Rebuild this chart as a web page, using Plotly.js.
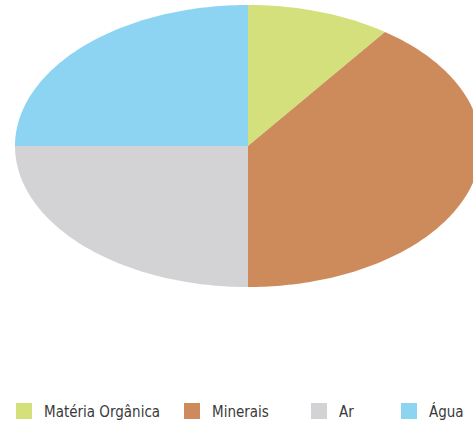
<!DOCTYPE html>
<html>
<head>
<meta charset="utf-8">
<script src="https://cdn.plot.ly/plotly-3.0.1.min.js"></script>
<style>html,body{margin:0;padding:0;background:#fff;}#chart{width:473px;height:433px;}</style>
</head>
<body>
<div id="chart"></div>
<script>
// Data
const categories = ["Matéria Orgânica", "Minerais", "Ar", "Água"];
const values = [10, 40, 25, 25];
const colors = ["#d3e07c", "#cd8a5a", "#d3d3d6", "#8dd4f3"];

// Layout constants (pixels)
const W = 473, H = 433, CX = 248, CY = 146, RX = 233, RY = 141;
const legendX = [4, 172, 299, 389];

// Build elliptical wedges (unit circle, stretched by axis ranges)
const total = values.reduce((a, b) => a + b, 0);
const traces = [];
let start = 0; // fraction from top, clockwise
values.forEach((v, i) => {
  const end = start + v / total;
  const xs = [0], ys = [0];
  const steps = Math.max(8, Math.ceil((end - start) * 360));
  for (let k = 0; k <= steps; k++) {
    const f = start + (end - start) * k / steps;
    const ang = Math.PI / 2 - f * 2 * Math.PI;
    xs.push(Math.cos(ang));
    ys.push(Math.sin(ang));
  }
  xs.push(0); ys.push(0);
  traces.push({
    type: "scatter", mode: "none", x: xs, y: ys,
    fill: "toself", fillcolor: colors[i],
    hoverinfo: "skip", showlegend: false
  });
  start = end;
});

const layout = {
  width: W, height: H,
  margin: {l: 0, r: 0, t: 0, b: 0},
  paper_bgcolor: "#ffffff", plot_bgcolor: "#ffffff",
  xaxis: {range: [-CX / RX, (W - CX) / RX], visible: false, fixedrange: true},
  yaxis: {range: [-(H - CY) / RY, CY / RY], visible: false, fixedrange: true},
  showlegend: true
};

// Legend entries, one legend each so they can be placed like the original
categories.forEach((c, i) => {
  const key = i === 0 ? "legend" : "legend" + (i + 1);
  traces.push({
    type: "scatter", mode: "markers", x: [null], y: [null], name: c,
    legend: key,
    marker: {symbol: "square", size: 16, color: colors[i]}
  });
  layout[key] = {
    orientation: "h", x: legendX[i] / W, xanchor: "left", y: 0.05, yanchor: "middle",
    font: {family: "DejaVu Sans Condensed, Liberation Sans Narrow, sans-serif", size: 15, color: "#3a3a3a"},
    itemclick: false, itemdoubleclick: false, bgcolor: "rgba(0,0,0,0)"
  };
});

Plotly.newPlot("chart", traces, layout, {displayModeBar: false, staticPlot: true});
</script>
</body>
</html>
